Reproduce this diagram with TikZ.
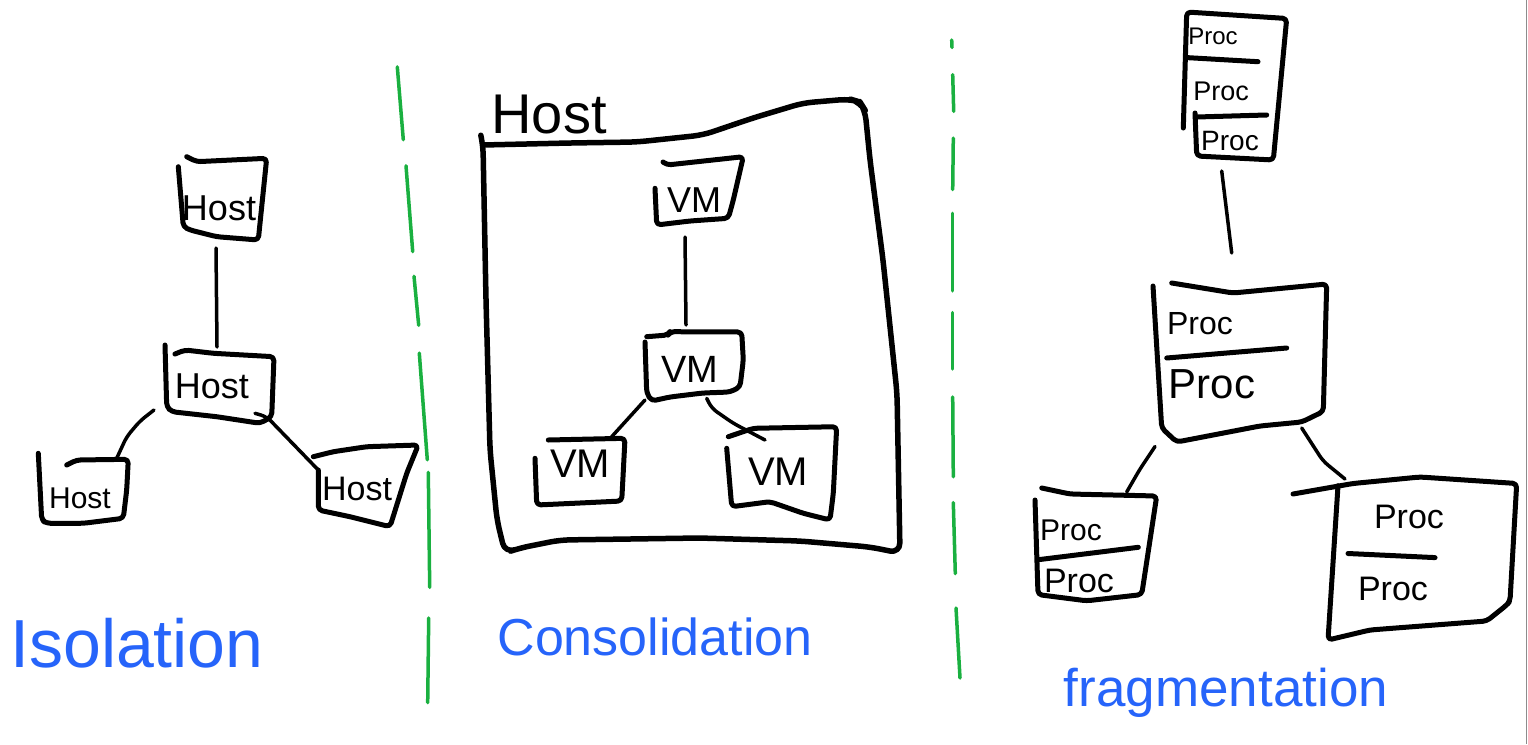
\documentclass[tikz,border=0pt]{standalone}
\usepackage{fontspec}
\setmainfont{Liberation Sans}
\definecolor{inkblue}{RGB}{38,100,250}
\definecolor{inkgreen}{RGB}{26,176,64}
\newcommand\myfs[1]{\fontsize{#1}{#1}\selectfont}
\tikzset{
  ink/.style={line width=5pt, line cap=round, line join=round, rounded corners=4pt},
  bigink/.style={line width=5.5pt, line cap=round, line join=round, rounded corners=10pt},
  link/.style={line width=3.5pt, line cap=round, line join=round, rounded corners=6pt},
  gdash/.style={inkgreen, line width=3.5pt, line cap=round},
  lbl/.style={anchor=base, inner sep=0pt, text=black},
  title/.style={anchor=base, inner sep=0pt, text=inkblue},
}
\begin{document}
\begin{tikzpicture}[x=1pt,y=-1pt]
\useasboundingbox (0,0) rectangle (1528,744);
\fill[white] (0,0) rectangle (1528,744);
\draw[black!45, line width=1pt] (1526.5,0) -- (1526.5,744);

% ---------- green separators ----------
\foreach \a/\b/\c/\d in {397.3/66.9/403.3/139.7, 406/165.8/412.7/251.6, 414/276.3/418.7/325.3,
  419.3/353.1/427.3/459.8, 428.3/472.4/429.7/587.3, 428.7/618/427.7/702.6}
  \draw[gdash] (\a,\b) -- (\c,\d);
\foreach \a/\b/\c/\d in {951.7/40/952/47.5, 952.7/74.7/953.7/111.4, 953.3/138.1/952.7/189.5,
  952.7/213.3/952.7/290.9, 952.7/312.6/952.7/369, 952.7/397/953.3/476.8,
  953.3/502.6/955.3/573.6, 956/608/960/678}
  \draw[gdash] (\a,\b) -- (\c,\d);

% ---------- Isolation ----------
\draw[ink] (186.7,156.7) -- (196.7,161.7) -- (266.7,158.3) -- (261.7,206.7) -- (258.3,240)
  -- (216.7,236.7) -- (190,230) -- (183.3,226.7) -- (178.3,166.7);
\node[lbl, font=\myfs{36}] (h1) at (219,220) {Host};

\draw[ink] (165,345) -- (166.7,406.7) -- (171.7,411.7) -- (216.7,416.7) -- (260,423.3)
  -- (271.7,416.7) -- (274,356.7) -- (213.3,353.3) -- (185,350) -- (175,354);
\node[lbl, font=\myfs{36}] (h2) at (212,398) {Host};

\draw[ink] (66.7,465) -- (76.7,460) -- (128.3,459.3) -- (126.7,490) -- (123.3,518.3)
  -- (83.3,523.3) -- (46.7,523.3) -- (41.7,520) -- (38.3,453.3);
\node[lbl, font=\myfs{30}] (h3) at (80,508) {Host};

\draw[ink] (313.3,456.7) -- (333.3,451.7) -- (366.7,446.7) -- (418.3,445) -- (406.7,473.3)
  -- (390,526.7) -- (350,516.7) -- (318.3,510) -- (318.3,470);
\node[lbl, font=\myfs{34}] (h4) at (357,500) {Host};

\coordinate (h1s) at (216,248);   \coordinate (h2n) at (217,347);
\coordinate (h2w) at (154,410);   \coordinate (h3n) at (116.7,458.3);
\coordinate (h2e) at (255,413.3); \coordinate (h4n) at (318.3,470);
\draw[link] (h1s) -- (h2n);
\draw[link] (h2w) -- (140,421) -- (126.7,436.7) -- (h3n);
\draw[link] (h2e) -- (266.7,416.7) -- (h4n);

\node[title, font=\myfs{68}] (iso) at (137,667) {Isolation};

% ---------- Consolidation ----------
\node[lbl, font=\myfs{56}] (bighost) at (549,133) {Host};
\draw[bigink] (481,136) -- (483,145) -- (486,300) -- (490,450) -- (497,520) -- (505,553)
  -- (520,548) -- (560,540) -- (700,538) -- (800,541) -- (870,547) -- (900,553)
  -- (897,393) -- (883,260) -- (870,160) -- (865,110) -- (860,102) -- (850,99)
  -- (803,103) -- (753,118) -- (703,135) -- (637,142) -- (570,143) -- (483,145);

\draw[ink] (663,162) -- (667,165) -- (743.3,156.7) -- (733.3,200) -- (728.3,218.3)
  -- (690,221) -- (656.7,225) -- (655,188.3);
\node[lbl, font=\myfs{36}] (vm1) at (694,212) {VM};

\draw[ink] (646.7,336.7) -- (668,335) -- (670,331.7) -- (741.7,332) -- (743.3,360)
  -- (740,387) -- (730,392) -- (703,393) -- (670,397) -- (651.7,401) -- (646.7,393) -- (645,342);
\node[lbl, font=\myfs{38}] (vm2) at (690,382) {VM};

\draw[ink] (548.3,440) -- (625,438.3) -- (623,477) -- (621.7,501) -- (580,503)
  -- (536.7,505) -- (535,458.3);
\node[lbl, font=\myfs{40}] (vm3) at (580,477) {VM};

\draw[ink] (728.3,436.7) -- (753.3,428.3) -- (836.7,426.7) -- (833.3,493.3) -- (830,520)
  -- (803.3,513.3) -- (770,501.7) -- (731.7,506.7) -- (726.7,448.3);
\node[lbl, font=\myfs{40}] (vm4) at (778,485) {VM};

\coordinate (v1s) at (685,237);   \coordinate (v2n) at (686,325);
\coordinate (v2w) at (645,400);   \coordinate (v3n) at (611.7,436.7);
\coordinate (v2e) at (706.7,398.3); \coordinate (v4n) at (765,440);
\draw[link] (v1s) -- (v2n);
\draw[link] (v2w) -- (v3n);
\draw[link] (v2e) -- (711.7,408.3) -- (733.3,423.3) -- (v4n);

\node[title, font=\myfs{52}] (cons) at (655,655) {Consolidation};

% ---------- fragmentation ----------
\draw[ink] (1183.3,128) -- (1186.7,12) -- (1286.7,18.5) -- (1273.3,160) -- (1196.7,156) -- (1195,113);
\draw[ink] (1186.7,57.6) -- (1258,61.7);
\draw[ink] (1196.7,117) -- (1266.7,115);
\node[lbl, font=\myfs{24}] (p1a) at (1213,44) {Proc};
\node[lbl, font=\myfs{27}] (p1b) at (1221,100) {Proc};
\node[lbl, font=\myfs{28}] (p1c) at (1230,150) {Proc};

\draw[ink] (1171.7,283) -- (1233,293) -- (1326.7,284) -- (1323.3,411.5) -- (1301.7,422)
  -- (1260,426) -- (1176.7,442) -- (1161.7,428) -- (1153,286);
\draw[ink] (1166.7,358) -- (1286.7,348);
\node[lbl, font=\myfs{32}] (p2a) at (1200,334) {Proc};
\node[lbl, font=\myfs{42}] (p2b) at (1212,398) {Proc};

\draw[ink] (1041.7,488) -- (1070,494) -- (1156.7,496) -- (1141.7,594.6) -- (1086.7,600.8)
  -- (1038,594.6) -- (1035,500);
\draw[ink] (1038.3,559.7) -- (1138.3,547.3);
\node[lbl, font=\myfs{30}] (p3a) at (1071,540) {Proc};
\node[lbl, font=\myfs{34}] (p3b) at (1079,592) {Proc};

\draw[ink] (1293,494) -- (1353,483.5) -- (1420,477) -- (1516.7,483.5) -- (1510,601)
  -- (1506.7,605) -- (1486.7,621) -- (1370,630) -- (1328,640) -- (1338,485.6);
\draw[ink] (1348,553.5) -- (1435,557.6);
\node[lbl, font=\myfs{34}] (p4a) at (1409,528) {Proc};
\node[lbl, font=\myfs{34}] (p4b) at (1393,600) {Proc};

\coordinate (p1s) at (1221.7,171);  \coordinate (p2n) at (1231.7,253);
\coordinate (p2w) at (1155,446.5);  \coordinate (p3n) at (1126.7,492);
\coordinate (p2e) at (1301.7,428);  \coordinate (p4n) at (1345,479);
\draw[link] (p1s) -- (p2n);
\draw[link] (p2w) -- (1140,469) -- (p3n);
\draw[link] (p2e) -- (1323,461) -- (p4n);

\node[title, font=\myfs{53}] (frag) at (1226,706) {fragmentation};
\end{tikzpicture}
\end{document}
